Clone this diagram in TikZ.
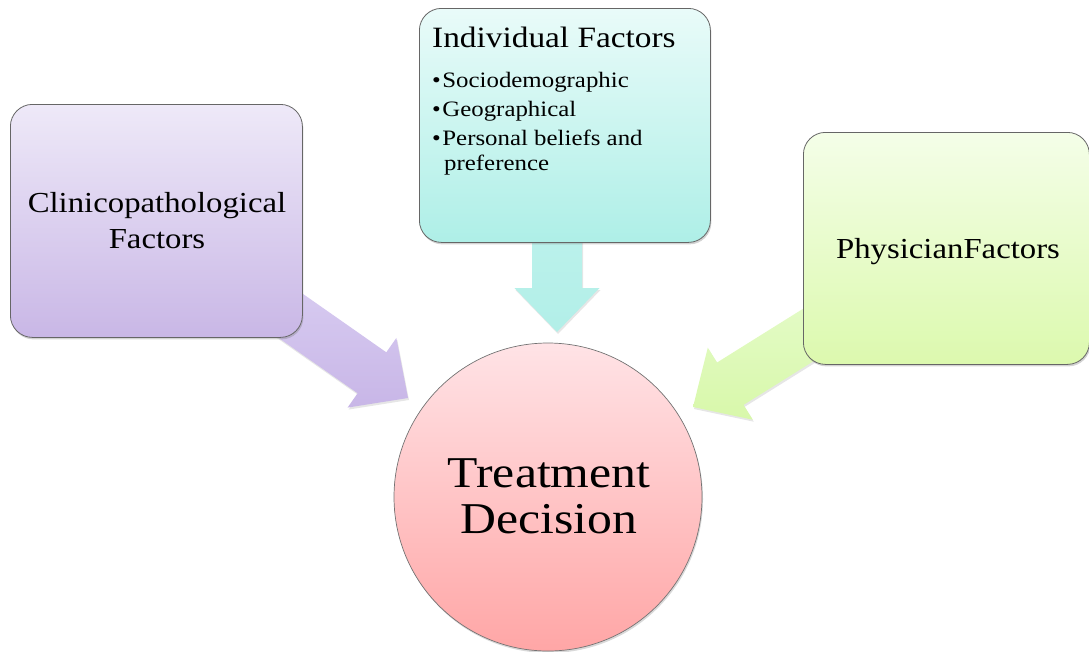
\documentclass[tikz,border=0pt]{standalone}
\usepackage{fontspec}
\setmainfont[FakeStretch=1.13]{Liberation Serif}
\usetikzlibrary{shadows}
\definecolor{purpT}{HTML}{EEE9F8}
\definecolor{purpB}{HTML}{C9B7E6}
\definecolor{cyanT}{HTML}{E9FBF9}
\definecolor{cyanB}{HTML}{AEEFE7}
\definecolor{limeT}{HTML}{F4FEE8}
\definecolor{limeB}{HTML}{DCF9AE}
\definecolor{pinkT}{HTML}{FFE3E6}
\definecolor{pinkB}{HTML}{FFA6A6}
\definecolor{purpA1}{HTML}{D8CCF1}
\definecolor{purpA2}{HTML}{C8B6E7}
\definecolor{cyanA1}{HTML}{BDF2EC}
\definecolor{cyanA2}{HTML}{B2EFE8}
\definecolor{limeA1}{HTML}{E4FBC8}
\definecolor{limeA2}{HTML}{D8F8AA}
\newcommand{\blockarrow}[4]{%
  \begin{scope}[shift={(#1)}, rotate=#2]
    \path[#4] (0,0) -- (-44,-42.5) -- (-44,-25) -- (-#3,-25) -- (-#3,25) -- (-44,25) -- (-44,42.5) -- cycle;
  \end{scope}}
\begin{document}
\begin{tikzpicture}[x=1pt,y=-1pt,
  box/.style={draw=black!60, line width=0.8pt, rounded corners=22pt, anchor=north west,
    drop shadow={opacity=0.35, shadow xshift=1pt, shadow yshift=-2pt}},
  arrowfill/.style={drop shadow={opacity=0.2, shadow xshift=1pt, shadow yshift=-2pt}},
  lbl/.style={inner sep=0pt, anchor=base},
  bul/.style={inner sep=0pt, anchor=base west, font=\fontsize{22}{24}\selectfont}]
\useasboundingbox (0,0) rectangle (1089,651);
% arrow tips
\coordinate (tipL) at (408,398);
\coordinate (tipT) at (557,332);
\coordinate (tipR) at (693,407);
% block arrows (behind boxes)
\blockarrow{tipL}{-35}{170}{arrowfill, top color=purpA1, bottom color=purpA2}
\blockarrow{tipT}{-90}{120}{arrowfill, top color=cyanA1, bottom color=cyanA2}
\blockarrow{tipR}{212}{170}{arrowfill, top color=limeA1, bottom color=limeA2}
% boxes
\node[box, minimum width=292pt, minimum height=233pt, top color=purpT, bottom color=purpB] (clin) at (10,104) {};
\node[box, minimum width=291pt, minimum height=234pt, top color=cyanT, bottom color=cyanB] (indiv) at (419,8) {};
\node[box, minimum width=286pt, minimum height=232pt, top color=limeT, bottom color=limeB] (phys) at (803,132) {};
% circle
\node[circle, draw=black!55, line width=0.7pt, minimum size=308pt, inner sep=0pt,
  top color=pinkT, bottom color=pinkB,
  drop shadow={opacity=0.3, shadow xshift=1pt, shadow yshift=-2pt}] (dec) at (548,497) {};
% texts
\node[lbl, font=\fontsize{29}{32}\selectfont] (clin1) at (157,212) {Clinicopathological};
\node[lbl, font=\fontsize{29}{32}\selectfont] (clin2) at (157,248) {Factors};
\node[lbl, font=\fontsize{29}{32}\selectfont] (phys1) at (948,258) {PhysicianFactors};
\node[inner sep=0pt, anchor=base west, font=\fontsize{29.5}{32}\selectfont] (indiv1) at (432,47) {Individual Factors};
\node[bul] (b1) at (432,87) {•\hspace{1.5pt}Sociodemographic};
\node[bul] (b2) at (432,116) {•\hspace{1.5pt}Geographical};
\node[bul] (b3) at (432,145) {•\hspace{1.5pt}Personal beliefs and};
\node[bul] (b4) at (444,170) {preference};
\node[lbl, font=\fontsize{44}{48}\selectfont] (dec1) at (549,487) {Treatment};
\node[lbl, font=\fontsize{44}{48}\selectfont] (dec2) at (549,533) {Decision};
\end{tikzpicture}
\end{document}
